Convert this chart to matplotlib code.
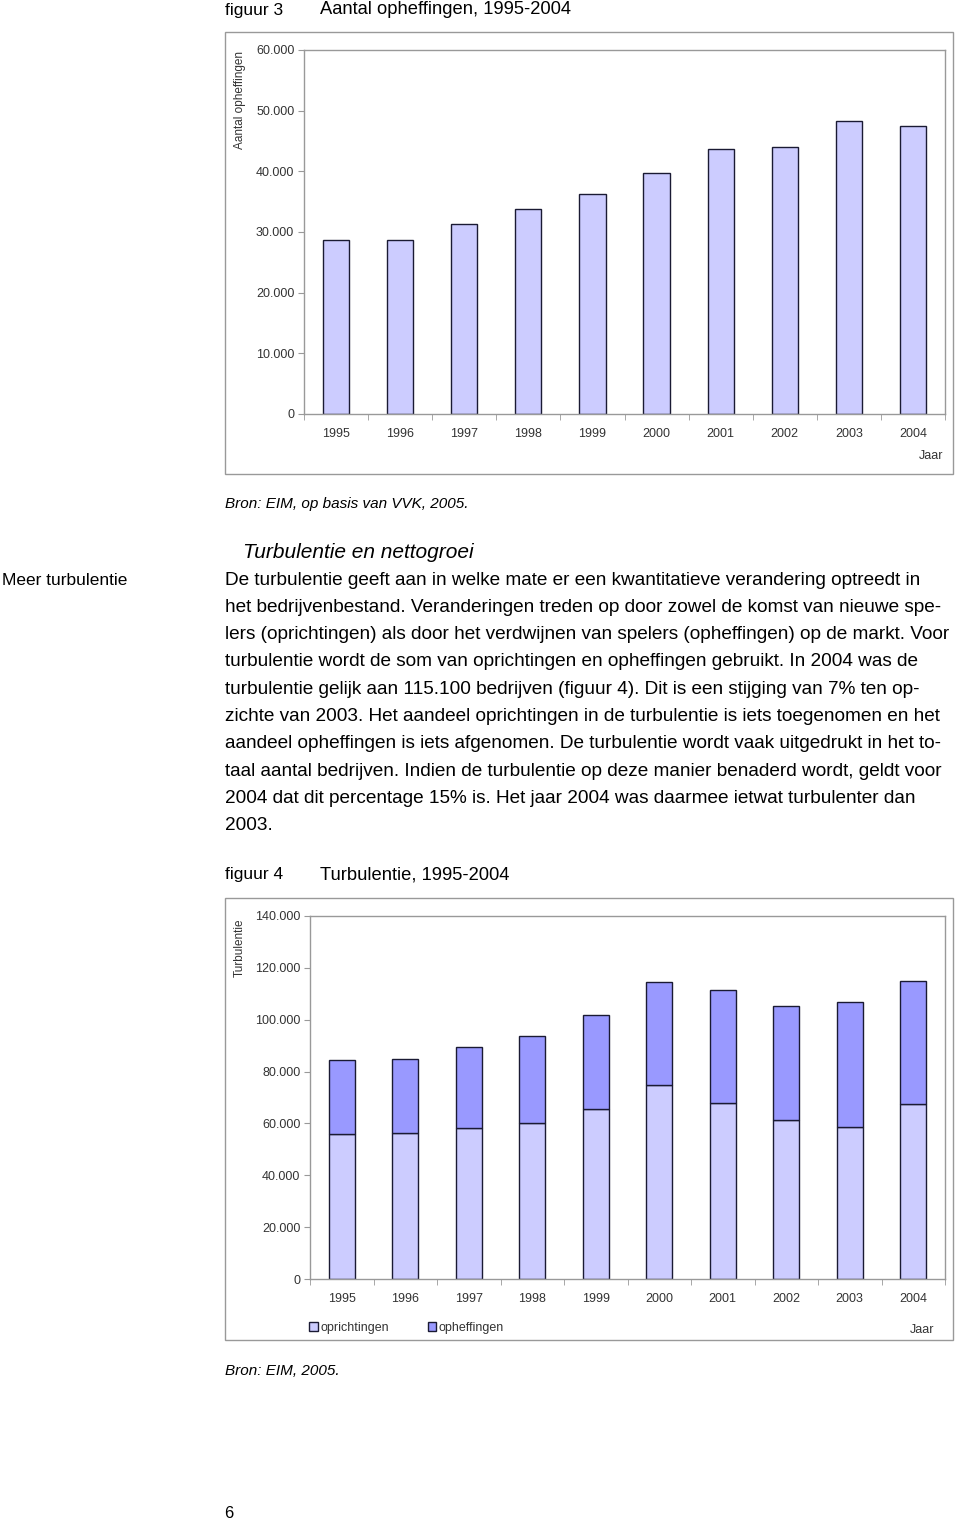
import matplotlib as mpl
mpl.use('Agg')
import matplotlib.pyplot as plt
from matplotlib.patches import Rectangle
from matplotlib.ticker import FuncFormatter, FixedLocator

plt.rcParams['font.family'] = ['Liberation Sans', 'DejaVu Sans']

# Data
jaren = ['1995', '1996', '1997', '1998', '1999', '2000', '2001', '2002', '2003', '2004']
opheffingen = [28600, 28600, 31400, 33800, 36300, 39800, 43700, 44000, 48300, 47400]
oprichtingen = [56000, 56300, 58100, 60000, 65400, 74700, 67800, 61300, 58700, 67600]

paragraph = [
    'De turbulentie geeft aan in welke mate er een kwantitatieve verandering optreedt in',
    'het bedrijvenbestand. Veranderingen treden op door zowel de komst van nieuwe spe-',
    'lers (oprichtingen) als door het verdwijnen van spelers (opheffingen) op de markt. Voor',
    'turbulentie wordt de som van oprichtingen en opheffingen gebruikt. In 2004 was de',
    'turbulentie gelijk aan 115.100 bedrijven (figuur 4). Dit is een stijging van 7% ten op-',
    'zichte van 2003. Het aandeel oprichtingen in de turbulentie is iets toegenomen en het',
    'aandeel opheffingen is iets afgenomen. De turbulentie wordt vaak uitgedrukt in het to-',
    'taal aantal bedrijven. Indien de turbulentie op deze manier benaderd wordt, geldt voor',
    '2004 dat dit percentage 15% is. Het jaar 2004 was daarmee ietwat turbulenter dan',
    '2003.',
]

W, H = 960, 1524
LIGHT = '#ccccff'
DARK = '#9999ff'
EDGE = '#1a1a33'
GRID = '#999999'
TXT = '#333333'


def fx(px):
    return px / W


def fy(py):
    return 1 - py / H


def thousands(v, pos):
    return '{:,.0f}'.format(v).replace(',', '.')


def style_axes(ax, ymax, ystep):
    x = range(len(jaren))
    ax.set_xlim(-0.5, len(jaren) - 0.5)
    ax.set_ylim(0, ymax)
    ax.set_yticks(range(0, ymax + 1, ystep))
    ax.yaxis.set_major_formatter(FuncFormatter(thousands))
    ax.set_xticks(list(x))
    ax.set_xticklabels(jaren)
    ax.xaxis.set_minor_locator(FixedLocator([i - 0.5 for i in range(len(jaren) + 1)]))
    ax.tick_params(axis='x', which='major', length=0, pad=10, labelsize=9, labelcolor=TXT)
    ax.tick_params(axis='x', which='minor', length=4, color=GRID, direction='out')
    ax.tick_params(axis='y', length=4, color=GRID, pad=3, labelsize=9, labelcolor=TXT)
    for s in ax.spines.values():
        s.set_color(GRID)
        s.set_linewidth(1.0)


fig = plt.figure(figsize=(W / 100, H / 100), dpi=100)

# ---- figuur 3 ----
fig.text(fx(225), fy(10), 'figuur 3', fontsize=12.5, va='center', ha='left')
fig.text(fx(320), fy(10), 'Aantal opheffingen, 1995-2004', fontsize=13.2, va='center', ha='left')
fig.patches.append(Rectangle((fx(225), fy(474)), fx(953) - fx(225), fy(32) - fy(474),
                             transform=fig.transFigure, fill=False, edgecolor=GRID, lw=1.0))

ax1 = fig.add_axes([fx(304), fy(414), fx(945) - fx(304), fy(50) - fy(414)])
ax1.bar(range(len(jaren)), opheffingen, width=0.41, color=LIGHT, edgecolor=EDGE, linewidth=1.0)
style_axes(ax1, 60000, 10000)
fig.text(fx(240), fy(100), 'Aantal opheffingen', rotation=90, fontsize=8.5, color=TXT,
         va='center', ha='center')
fig.text(fx(943), fy(456), 'Jaar', fontsize=9, color=TXT, va='center', ha='right')

fig.text(fx(225), fy(504), 'Bron: EIM, op basis van VVK, 2005.', fontsize=11, style='italic',
         va='center', ha='left')

# ---- tekst ----
fig.text(fx(243), fy(552), 'Turbulentie en nettogroei', fontsize=15, style='italic',
         va='center', ha='left')
fig.text(fx(2), fy(580), 'Meer turbulentie', fontsize=12.5, va='center', ha='left')
for i, line in enumerate(paragraph):
    fig.text(fx(225), fy(580 + i * 27.3), line, fontsize=13.7, va='center', ha='left')

# ---- figuur 4 ----
fig.text(fx(225), fy(875), 'figuur 4', fontsize=12.5, va='center', ha='left')
fig.text(fx(320), fy(875), 'Turbulentie, 1995-2004', fontsize=13.2, va='center', ha='left')
fig.patches.append(Rectangle((fx(225), fy(1340)), fx(953) - fx(225), fy(898) - fy(1340),
                             transform=fig.transFigure, fill=False, edgecolor=GRID, lw=1.0))

ax2 = fig.add_axes([fx(310), fy(1279), fx(945) - fx(310), fy(916) - fy(1279)])
b1 = ax2.bar(range(len(jaren)), oprichtingen, width=0.41, color=LIGHT, edgecolor=EDGE,
             linewidth=1.0, label='oprichtingen')
b2 = ax2.bar(range(len(jaren)), opheffingen, width=0.41, bottom=oprichtingen, color=DARK,
             edgecolor=EDGE, linewidth=1.0, label='opheffingen')
style_axes(ax2, 140000, 20000)
fig.text(fx(240), fy(948), 'Turbulentie', rotation=90, fontsize=8.5, color=TXT,
         va='center', ha='center')
fig.text(fx(934), fy(1330), 'Jaar', fontsize=9, color=TXT, va='center', ha='right')
fig.legend(handles=[b1, b2], loc='center left', bbox_to_anchor=(fx(309), fy(1328)),
           ncol=2, frameon=False, fontsize=9, handlelength=0.7, handleheight=0.7,
           handletextpad=0.2, columnspacing=3.1, borderpad=0, borderaxespad=0,
           labelcolor=TXT)

fig.text(fx(225), fy(1371), 'Bron: EIM, 2005.', fontsize=11, style='italic',
         va='center', ha='left')
fig.text(fx(224), fy(1513), '6', fontsize=12, va='center', ha='left')

fig.savefig('out.png', dpi=100)
plt.close('all')
